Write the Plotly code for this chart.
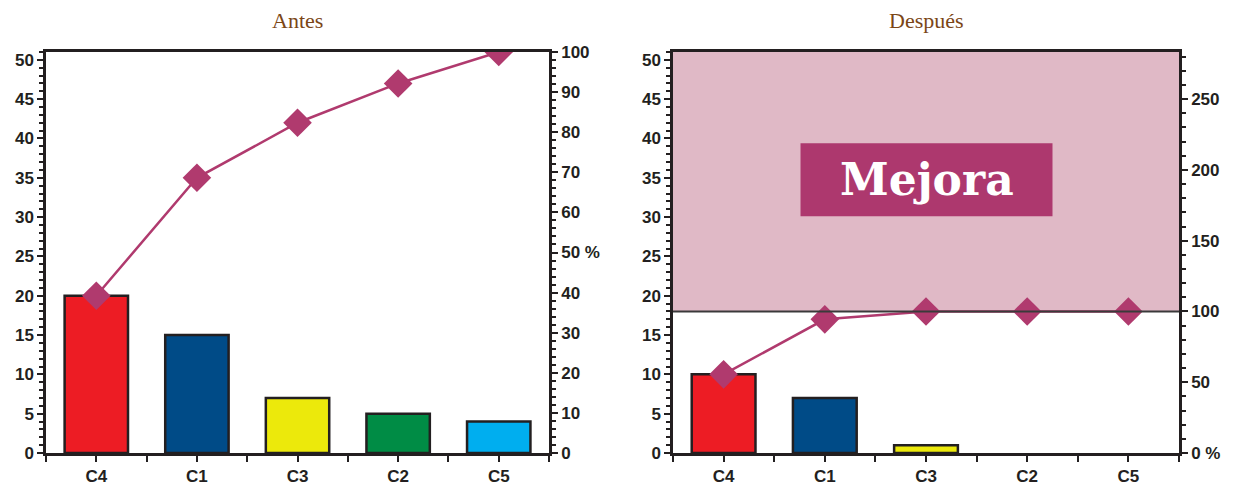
import plotly.graph_objects as go

categories = ["C4", "C1", "C3", "C2", "C5"]
antes = [20, 15, 7, 5, 4]
despues = [10, 7, 1, 0, 0]
bar_colors = ["#ed1c24", "#004b87", "#ece90b", "#008c45", "#00aeef"]
titles = ["Antes", "Después"]

LINE = "#b03a6e"
INK = "#231f20"
TICKFONT = dict(family="Liberation Sans Narrow, Liberation Sans, Arial", size=17,
                color=INK, weight="bold")


def cumulative_pct(values):
    total = sum(values)
    out, run = [], 0
    for v in values:
        run += v
        out.append(run / total * 100)
    return out


xpos = list(range(len(categories)))
ymax = sum(antes)  # both panels share the same left scale

fig = go.Figure()

# Antes
fig.add_trace(go.Bar(x=xpos, y=antes, width=0.63, marker_color=bar_colors,
                     marker_line=dict(color=INK, width=[2.5 if v else 0 for v in antes]),
                     xaxis="x", yaxis="y"))
fig.add_trace(go.Scatter(x=xpos, y=cumulative_pct(antes), mode="lines+markers",
                         line=dict(color=LINE, width=2.5),
                         marker=dict(symbol="diamond", size=22, color=LINE),
                         xaxis="x", yaxis="y2"))

# Después
fig.add_trace(go.Bar(x=xpos, y=despues, width=0.63, marker_color=bar_colors,
                     marker_line=dict(color=INK, width=[2.5 if v else 0 for v in despues]),
                     xaxis="x2", yaxis="y3"))
fig.add_trace(go.Scatter(x=xpos, y=cumulative_pct(despues), mode="lines+markers",
                         line=dict(color=LINE, width=2.5),
                         marker=dict(symbol="diamond", size=22, color=LINE),
                         xaxis="x2", yaxis="y4"))

xax = dict(range=[-0.5, len(categories) - 0.5], tickvals=xpos, ticktext=categories,
           ticks="outside", ticklen=6, tickwidth=2, tickcolor=INK,
           minor=dict(tickvals=[i - 0.5 for i in range(len(categories) + 1)],
                      ticks="outside", ticklen=6, tickwidth=2, tickcolor=INK),
           showline=True, linewidth=2.5, linecolor=INK, mirror=True,
           showgrid=False, zeroline=False, tickfont=TICKFONT, fixedrange=True)

yleft = dict(range=[0, ymax], tickvals=list(range(0, 51, 5)),
             ticks="outside", ticklen=6, tickwidth=2, tickcolor=INK,
             minor=dict(dtick=1, ticks="outside", ticklen=4, tickwidth=1.5, tickcolor=INK),
             showline=True, linewidth=2.5, linecolor=INK,
             showgrid=False, zeroline=False, tickfont=TICKFONT)

pct_antes = list(range(0, 101, 10))
pct_antes_txt = [("50 %" if v == 50 else str(v)) for v in pct_antes]
pct_desp = list(range(0, 251, 50))
pct_desp_txt = [("0 %" if v == 0 else str(v)) for v in pct_desp]

yright = dict(side="right", ticks="outside", ticklen=6, tickwidth=2, tickcolor=INK,
              showline=True, linewidth=2.5, linecolor=INK,
              showgrid=False, zeroline=False, tickfont=TICKFONT)

# page body adds an 8px margin, so the figure is a bit smaller than the window
fig.update_layout(
    width=1227, height=482,
    margin=dict(l=38, r=56, t=44, b=37, autoexpand=False),
    paper_bgcolor="white", plot_bgcolor="rgba(0,0,0,0)",
    showlegend=False,
    xaxis=dict(xax, domain=[0, 0.444], anchor="y"),
    yaxis=dict(yleft, anchor="x"),
    yaxis2=dict(yright, overlaying="y", anchor="x", range=[0, 100],
                tickvals=pct_antes, ticktext=pct_antes_txt,
                minor=dict(dtick=2, ticks="outside", ticklen=4, tickwidth=1.5, tickcolor=INK)),
    xaxis2=dict(xax, domain=[0.5534, 1], anchor="y3"),
    yaxis3=dict(yleft, anchor="x2"),
    yaxis4=dict(yright, overlaying="y3", anchor="x2",
                range=[0, ymax / sum(despues) * 100],
                tickvals=pct_desp, ticktext=pct_desp_txt,
                minor=dict(dtick=10, ticks="outside", ticklen=4, tickwidth=1.5, tickcolor=INK)),
)

# improvement zone above the 100 % level of "Después"
fig.add_shape(type="rect", xref="x2 domain", yref="y3", x0=0, x1=1,
              y0=sum(despues), y1=ymax, fillcolor="#e0b9c6", line_width=0, layer="below")
fig.add_shape(type="line", xref="x2 domain", yref="y3", x0=0, x1=1,
              y0=sum(despues), y1=sum(despues), line=dict(color="#3a3a3a", width=2))
fig.add_shape(type="rect", xref="x2 domain", yref="y3", x0=0.252, x1=0.75,
              y0=30.1, y1=39.4, fillcolor="#ad386e", line_width=0)
fig.add_annotation(text="<b>Mejora</b>", xref="x2 domain", yref="y3", x=0.501, y=34.75,
                   showarrow=False, font=dict(family="DejaVu Serif, Liberation Serif",
                                              size=44, color="white"))

for i, t in enumerate(titles):
    fig.add_annotation(text=t, xref=f"x{'' if i == 0 else 2} domain", yref="paper",
                       x=0.5, y=1, yanchor="middle", yshift=32, showarrow=False,
                       font=dict(family="Liberation Serif, DejaVu Serif", size=22,
                                 color="#7b4616"))

fig.write_html("out.html")
